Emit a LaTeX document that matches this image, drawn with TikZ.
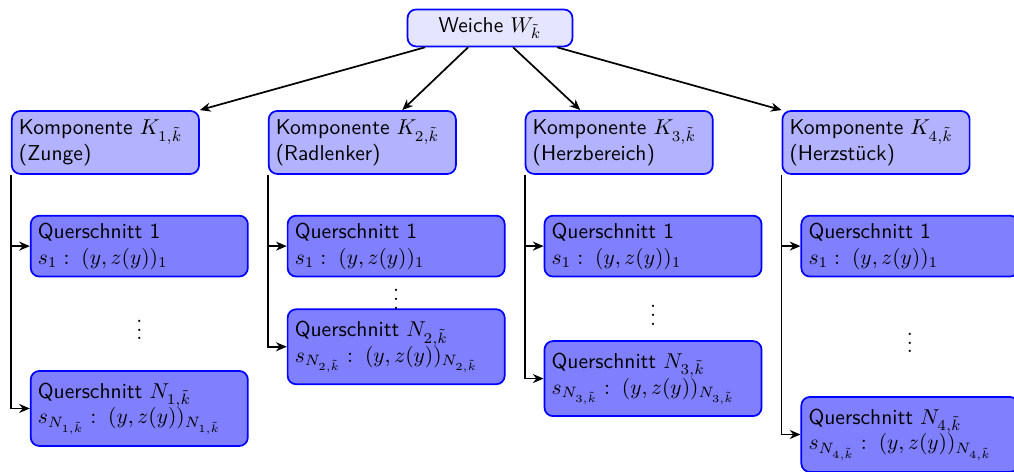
\documentclass[tikz,border=0pt]{standalone}
\usepackage{fontspec}
\usepackage{amsmath}
\usepackage{tikz}
\usetikzlibrary{arrows.meta, positioning, calc}

\begin{document}
\begin{tikzpicture}[node distance=18.6pt and 31.6pt, thick, >={Stealth[length=5pt, width=4.2pt]},
  wbox/.style={draw=blue, fill=blue!10, rounded corners, minimum width=76.7pt, minimum height=17.2pt, font=\sffamily},
  kbox/.style={draw=blue, fill=blue!30, rounded corners, text width=80.4pt, minimum height=29.3pt, align=left, font=\sffamily},
  qbox/.style={draw=blue, fill=blue!50, rounded corners, text width=94.3pt, align=left, font=\sffamily},
  qnbox/.style={qbox, minimum height=34.9pt}]
\useasboundingbox (0,0) rectangle (471.6pt,-219.1pt);
% Weiche und Komponenten
\node[wbox] (w) at (227.9pt,-13pt) {Weiche $W_{\tilde{k}}$};
\node[kbox, anchor=north west] (k1) at (5.1pt,-51.2pt) {Komponente $K_{1,\tilde{k}}$\\(Zunge)};
\node[kbox, right=of k1] (k2) {Komponente $K_{2,\tilde{k}}$\\(Radlenker)};
\node[kbox, right=of k2] (k3) {Komponente $K_{3,\tilde{k}}$\\(Herzbereich)};
\node[kbox, right=of k3] (k4) {Komponente $K_{4,\tilde{k}}$\\(Herzstück)};
\draw[->] ([xshift=-30.2pt]w.south) -- (k1.north east);
\draw[->] ([xshift=-10.2pt]w.south) -- ([xshift=18.6pt]k2.north);
\draw[->] ([xshift=10.7pt]w.south) -- ([xshift=-18.1pt]k3.north);
\draw[->] ([xshift=31.2pt]w.south) -- (k4.north west);
% Querschnitte
\node[qbox, anchor=north west] (q11) at ([xshift=8.8pt, yshift=-18.6pt]k1.south west) {Querschnitt 1\\$s_1:\;(y,z(y))_1$};
\node[qnbox, below=43.1pt of q11] (q1n) {Querschnitt $N_{1,\tilde{k}}$\\$s_{N_{1,\tilde{k}}}:\;(y,z(y))_{N_{1,\tilde{k}}}$};
\node[qbox, anchor=north west] (q21) at ([xshift=8.8pt, yshift=-18.6pt]k2.south west) {Querschnitt 1\\$s_1:\;(y,z(y))_1$};
\node[qnbox, below=14.4pt of q21] (q2n) {Querschnitt $N_{2,\tilde{k}}$\\$s_{N_{2,\tilde{k}}}:\;(y,z(y))_{N_{2,\tilde{k}}}$};
\node[qbox, anchor=north west] (q31) at ([xshift=8.8pt, yshift=-18.6pt]k3.south west) {Querschnitt 1\\$s_1:\;(y,z(y))_1$};
\node[qnbox, below=29.2pt of q31] (q3n) {Querschnitt $N_{3,\tilde{k}}$\\$s_{N_{3,\tilde{k}}}:\;(y,z(y))_{N_{3,\tilde{k}}}$};
\node[qbox, anchor=north west] (q41) at ([xshift=8.8pt, yshift=-18.6pt]k4.south west) {Querschnitt 1\\$s_1:\;(y,z(y))_1$};
\node[qnbox, below=55.2pt of q41] (q4n) {Querschnitt $N_{4,\tilde{k}}$\\$s_{N_{4,\tilde{k}}}:\;(y,z(y))_{N_{4,\tilde{k}}}$};
\node (d1) at ($(q11.south)!0.5!(q1n.north)$) {$\vdots$};
\node (d2) at ($(q21.south)!0.5!(q2n.north)$) {$\vdots$};
\node (d3) at ($(q31.south)!0.5!(q3n.north)$) {$\vdots$};
\node (d4) at ($(q41.south)!0.5!(q4n.north)$) {$\vdots$};
\draw[->] (k1.south west) |- (q11.west);
\draw[->] (k1.south west) |- (q1n.west);
\draw[->] (k2.south west) |- (q21.west);
\draw[->] (k2.south west) |- (q2n.west);
\draw[->] (k3.south west) |- (q31.west);
\draw[->] (k3.south west) |- (q3n.west);
\draw[->] (k4.south west) |- (q41.west);
\draw[->] (k4.south west) |- (q4n.west);
\end{tikzpicture}
\end{document}
